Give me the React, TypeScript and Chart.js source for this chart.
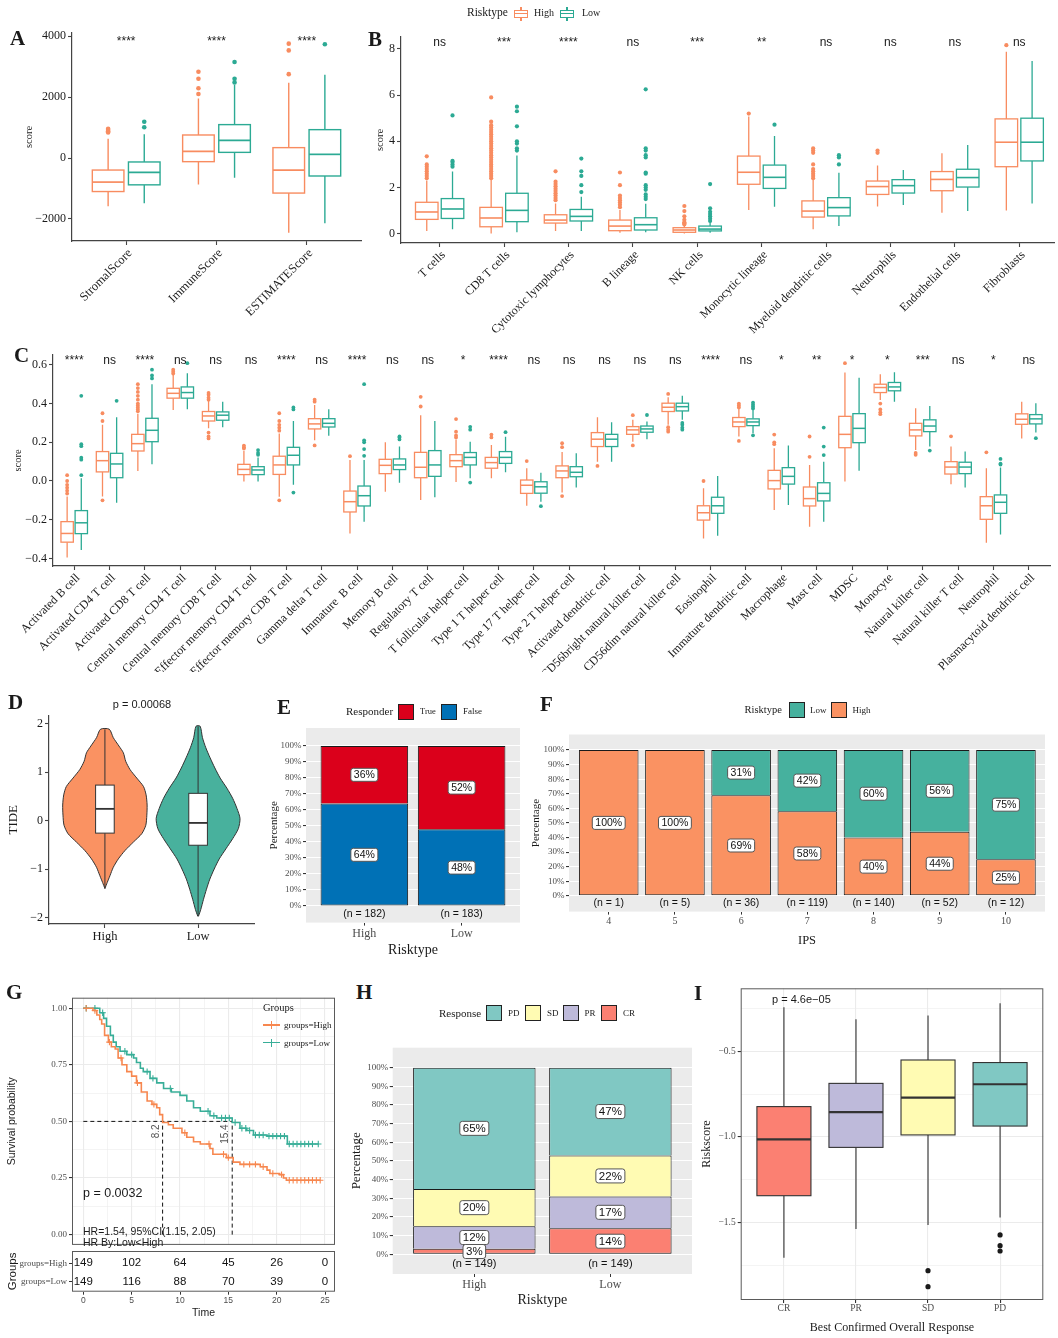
import React, { useEffect, useRef } from 'react';
import { Chart, registerables } from 'chart.js';

Chart.register(...registerables);

const SERIF = '"Liberation Serif", "Times New Roman", serif';
const SANS = '"Liberation Sans", Arial, Helvetica, sans-serif';
Chart.defaults.font.family = SERIF;
Chart.defaults.color = '#1a1a1a';

const HIGH_COL = '#F88C60';
const LOW_COL = '#2CAA94';
const INK = '#1a1a1a';
const AXIS = '#444444';
const GREY_TXT = '#4D4D4D';
const PANEL_BG = '#EBEBEB';
const DODGE = 0.2;
const BOX_W = 0.35;

// ---------- A: ESTIMATE scores ----------
const A_CATS = ['StromalScore', 'ImmuneScore', 'ESTIMATEScore'];
const A_SIG = ['****', '****', '****'];
// each row: [lower whisker, Q1, median, Q3, upper whisker]
const A_HIGH = [
  [-1580, -1100, -790, -395, 630],
  [-870, -120, 220, 755, 1950],
  [-2450, -1150, -395, 340, 2470],
];
const A_LOW = [
  [-1480, -880, -470, -130, 780],
  [-650, 185, 580, 1095, 2400],
  [-2140, -590, 120, 930, 2730],
];
const A_HIGH_OUT = [[840, 880, 920, 960], [2100, 2290, 2600, 2830], [2750, 3530, 3750]];
const A_LOW_OUT = [[1010, 1190], [2480, 2600, 3150], [3730]];

// ---------- B: MCP-counter scores ----------
const B_CATS = ['T cells', 'CD8 T cells', 'Cytotoxic lymphocytes', 'B lineage', 'NK cells', 'Monocytic lineage',
  'Myeloid dendritic cells', 'Neutrophils', 'Endothelial cells', 'Fibroblasts'];
const B_SIG = ['ns', '***', '****', 'ns', '***', '**', 'ns', 'ns', 'ns', 'ns'];
const B_HIGH = [
  [0.12, 0.62, 0.94, 1.36, 2.3],
  [0.01, 0.3, 0.68, 1.14, 2.33],
  [0.12, 0.46, 0.59, 0.82, 1.31],
  [0.04, 0.13, 0.33, 0.59, 1.03],
  [0.01, 0.06, 0.16, 0.26, 0.33],
  [1.03, 2.14, 2.66, 3.36, 5.07],
  [0.19, 0.72, 0.98, 1.42, 2.33],
  [1.18, 1.7, 2.04, 2.28, 2.95],
  [0.91, 1.86, 2.35, 2.69, 3.48],
  [1.0, 2.9, 3.96, 4.97, 7.88],
];
const B_LOW = [
  [0.19, 0.66, 1.07, 1.52, 2.69],
  [0.06, 0.52, 1.01, 1.75, 3.38],
  [0.12, 0.55, 0.75, 1.05, 1.6],
  [0.06, 0.16, 0.39, 0.69, 1.3],
  [0.04, 0.12, 0.2, 0.33, 0.5],
  [1.17, 1.96, 2.44, 2.97, 4.23],
  [0.33, 0.77, 1.13, 1.56, 2.64],
  [1.24, 1.76, 2.08, 2.34, 2.76],
  [0.98, 2.02, 2.43, 2.79, 3.84],
  [1.31, 3.15, 3.96, 5.0, 7.48],
];
const B_HIGH_OUT = [
  [2.4, 2.5, 2.6, 2.7, 2.8, 2.9, 3.0, 3.35],
  [2.4, 2.5, 2.6, 2.7, 2.8, 2.9, 3.0, 3.1, 3.2, 3.3, 3.4, 3.5, 3.6, 3.7, 3.8, 3.9, 4.0, 4.1, 4.2, 4.3, 4.4, 4.5, 4.6, 4.7, 4.85, 5.9],
  [1.45, 1.55, 1.65, 1.75, 1.85, 1.95, 2.05, 2.15, 2.25, 2.7],
  [1.15, 1.25, 1.35, 1.45, 1.55, 1.65, 2.1, 2.65],
  [0.4, 0.45, 0.5, 0.6, 0.75, 0.98, 1.2],
  [5.2],
  [2.4, 2.5, 2.6, 2.7, 2.8, 3.0, 3.5, 3.6, 3.7],
  [3.5, 3.6],
  [],
  [8.16],
];
const B_LOW_OUT = [
  [2.9, 3.0, 3.1, 3.15, 5.12],
  [3.6, 3.7, 3.9, 4.0, 4.65, 5.3, 5.5],
  [1.8, 2.1, 2.5, 2.7, 3.25],
  [1.5, 1.6, 1.7, 1.9, 2.0, 2.1, 2.6, 2.65, 3.3, 3.4, 3.6, 3.7, 6.25],
  [0.55, 0.65, 0.75, 0.85, 0.95, 1.1, 2.15],
  [4.72],
  [3.0, 3.3, 3.4],
  [],
  [],
  [],
];

// ---------- C: ssGSEA immune cell scores ----------
const C_CATS = ['Activated B cell', 'Activated CD4 T cell', 'Activated CD8 T cell', 'Central memory CD4 T cell',
  'Central memory CD8 T cell', 'Effector memory CD4 T cell', 'Effector memory CD8 T cell', 'Gamma delta T cell',
  'Immature  B cell', 'Memory B cell', 'Regulatory T cell', 'T follicular helper cell', 'Type 1 T helper cell',
  'Type 17 T helper cell', 'Type 2 T helper cell', 'Activated dendritic cell', 'CD56bright natural killer cell',
  'CD56dim natural killer cell', 'Eosinophil', 'Immature dendritic cell', 'Macrophage', 'Mast cell', 'MDSC',
  'Monocyte', 'Natural killer cell', 'Natural killer T cell', 'Neutrophil', 'Plasmacytoid dendritic cell'];
const C_SIG = ['****', 'ns', '****', 'ns', 'ns', 'ns', '****', 'ns', '****', 'ns', 'ns', '*', '****', 'ns', 'ns',
  'ns', 'ns', 'ns', '****', 'ns', '*', '**', '*', '*', '***', 'ns', '*', 'ns'];
const C_HIGH = [
  [-0.395, -0.316, -0.271, -0.21, -0.08],
  [-0.08, 0.047, 0.105, 0.152, 0.29],
  [0.052, 0.155, 0.193, 0.241, 0.347],
  [0.367, 0.428, 0.453, 0.479, 0.548],
  [0.272, 0.31, 0.336, 0.359, 0.415],
  [-0.003, 0.033, 0.06, 0.086, 0.155],
  [-0.081, 0.034, 0.083, 0.128, 0.245],
  [0.21, 0.269, 0.295, 0.322, 0.393],
  [-0.271, -0.16, -0.107, -0.052, 0.109],
  [-0.055, 0.038, 0.081, 0.112, 0.2],
  [-0.098, 0.017, 0.071, 0.148, 0.34],
  [-0.005, 0.074, 0.105, 0.136, 0.215],
  [0.014, 0.066, 0.095, 0.122, 0.186],
  [-0.128, -0.064, -0.022, 0.005, 0.066],
  [-0.06, 0.017, 0.052, 0.078, 0.15],
  [0.1, 0.178, 0.216, 0.25, 0.33],
  [0.203, 0.241, 0.264, 0.281, 0.316],
  [0.29, 0.359, 0.381, 0.402, 0.433],
  [-0.297, -0.202, -0.164, -0.128, -0.038],
  [0.23, 0.281, 0.305, 0.328, 0.376],
  [-0.15, -0.041, 0.002, 0.055, 0.169],
  [-0.236, -0.129, -0.091, -0.031, 0.083],
  [-0.003, 0.172, 0.241, 0.334, 0.56],
  [0.419, 0.457, 0.483, 0.5, 0.552],
  [0.16, 0.233, 0.264, 0.298, 0.376],
  [-0.017, 0.036, 0.072, 0.1, 0.178],
  [-0.319, -0.198, -0.128, -0.081, 0.066],
  [0.219, 0.293, 0.319, 0.347, 0.41],
];
const C_LOW = [
  [-0.357, -0.272, -0.216, -0.153, 0.014],
  [-0.112, 0.017, 0.088, 0.143, 0.33],
  [0.086, 0.203, 0.262, 0.324, 0.5],
  [0.371, 0.428, 0.457, 0.486, 0.557],
  [0.278, 0.314, 0.34, 0.357, 0.41],
  [-0.003, 0.033, 0.057, 0.074, 0.122],
  [-0.02, 0.083, 0.133, 0.174, 0.31],
  [0.234, 0.279, 0.298, 0.322, 0.371],
  [-0.21, -0.129, -0.076, -0.026, 0.109],
  [-0.009, 0.059, 0.083, 0.114, 0.178],
  [-0.084, 0.024, 0.083, 0.157, 0.31],
  [0.014, 0.083, 0.122, 0.147, 0.203],
  [0.045, 0.091, 0.122, 0.152, 0.229],
  [-0.107, -0.063, -0.03, -0.004, 0.043],
  [-0.034, 0.022, 0.045, 0.074, 0.143],
  [0.1, 0.178, 0.216, 0.241, 0.303],
  [0.216, 0.252, 0.269, 0.284, 0.307],
  [0.316, 0.362, 0.384, 0.402, 0.44],
  [-0.283, -0.167, -0.128, -0.084, 0.026],
  [0.247, 0.286, 0.305, 0.321, 0.37],
  [-0.124, -0.016, 0.024, 0.069, 0.183],
  [-0.21, -0.103, -0.064, -0.009, 0.1],
  [0.053, 0.198, 0.272, 0.348, 0.534],
  [0.41, 0.466, 0.486, 0.509, 0.562],
  [0.178, 0.255, 0.284, 0.316, 0.388],
  [-0.033, 0.038, 0.072, 0.097, 0.152],
  [-0.276, -0.167, -0.11, -0.072, 0.07],
  [0.25, 0.295, 0.321, 0.343, 0.402],
];
const C_HIGH_OUT = [
  [-0.065, -0.05, -0.035, -0.02, 0.0, 0.03],
  [-0.1, 0.31, 0.35],
  [0.36, 0.37, 0.38, 0.39, 0.4, 0.42, 0.44, 0.46, 0.48, 0.5],
  [0.555, 0.565, 0.575],
  [0.22, 0.23, 0.25, 0.42, 0.43, 0.445, 0.455],
  [0.168, 0.175, 0.183],
  [-0.1, 0.26, 0.275, 0.29, 0.31, 0.35],
  [0.184, 0.41, 0.42],
  [0.128],
  [],
  [0.385, 0.435],
  [0.225, 0.235, 0.255, 0.32],
  [0.225, 0.24],
  [0.103],
  [-0.078, 0.175, 0.195],
  [0.078],
  [0.184, 0.34],
  [0.255, 0.265, 0.278, 0.45],
  [0.0],
  [0.207, 0.38, 0.39, 0.4],
  [0.19, 0.2, 0.24],
  [0.125, 0.23],
  [0.609],
  [0.345, 0.355, 0.37, 0.4],
  [0.135, 0.145],
  [0.231],
  [0.148],
  [],
];
const C_LOW_OUT = [
  [0.03, 0.11, 0.12, 0.18, 0.19, 0.44],
  [0.414],
  [0.53, 0.545, 0.575],
  [0.609],
  [],
  [0.135, 0.145, 0.16],
  [-0.06, 0.37, 0.38],
  [],
  [0.13, 0.165, 0.2, 0.21, 0.5],
  [0.215, 0.225, 0.23],
  [],
  [-0.008, 0.265, 0.28],
  [0.252],
  [-0.13],
  [],
  [],
  [0.341],
  [0.265, 0.275, 0.29, 0.3],
  [],
  [0.236, 0.375, 0.385, 0.395, 0.405],
  [],
  [0.134, 0.178, 0.276],
  [],
  [],
  [0.157],
  [],
  [0.085, 0.09, 0.114],
  [0.221],
];

// ---------- D: TIDE violin ----------
const D_GROUPS = ['High', 'Low'];
const D_HIGH_Y = [-1.403, -1.278, -1.139, -0.965, -0.792, -0.618, -0.444, -0.271, -0.097, 0.111, 0.319, 0.528,
  0.701, 0.875, 1.049, 1.222, 1.396, 1.535, 1.708, 1.882];
const D_HIGH_W = [0.0, 0.025, 0.054, 0.09, 0.144, 0.216, 0.306, 0.396, 0.439, 0.45, 0.453, 0.442,
  0.414, 0.342, 0.27, 0.223, 0.198, 0.151, 0.09, 0.047];
const D_LOW_Y = [-1.972, -1.833, -1.625, -1.417, -1.208, -1.0, -0.792, -0.583, -0.375, -0.167, 0.042, 0.25,
  0.458, 0.667, 0.875, 1.083, 1.292, 1.5, 1.708, 1.944];
const D_LOW_W = [0.004, 0.029, 0.058, 0.09, 0.126, 0.173, 0.227, 0.299, 0.371, 0.432, 0.45, 0.417,
  0.371, 0.309, 0.237, 0.18, 0.129, 0.083, 0.047, 0.022];
const D_BOX = [
  [-1.4, -0.26, 0.24, 0.73, 1.88],
  [-1.97, -0.51, -0.05, 0.56, 1.94],
];

// ---------- E: responder share ----------
const E_GROUPS = ['High', 'Low'];
const E_N = [182, 183];
const E_FALSE = [64, 48];
const E_TRUE = [36, 52];

// ---------- F: IPS ----------
const F_IPS = ['4', '5', '6', '7', '8', '9', '10'];
const F_N = [1, 5, 36, 119, 140, 52, 12];
const F_HIGH = [100, 100, 69, 58, 40, 44, 25];
const F_LOW = [0, 0, 31, 42, 60, 56, 75];

// ---------- G: survival ----------
const G_HIGH_T = [0, 1.0, 1.4, 1.7, 1.9, 2.2, 2.6, 2.9, 3.3, 3.6, 4.0, 4.5, 5.0, 5.5, 6.0, 6.6, 7.1, 7.6, 7.9,
  8.2, 8.8, 9.3, 10.2, 10.7, 11.4, 12.1, 13.1, 13.4, 14.8, 15.5, 16.2, 18.3, 19.0, 19.3, 20.3, 20.7, 21.0, 24.5];
const G_HIGH_S = [1.0, 0.99, 0.97, 0.95, 0.93, 0.88, 0.85, 0.83, 0.82, 0.78, 0.75, 0.72, 0.7, 0.67, 0.63, 0.59,
  0.575, 0.56, 0.53, 0.495, 0.485, 0.47, 0.45, 0.43, 0.41, 0.4, 0.38, 0.355, 0.34, 0.32, 0.31, 0.3, 0.285, 0.27,
  0.265, 0.25, 0.24, 0.24];
const G_LOW_T = [0, 1.7, 2.1, 2.4, 2.8, 3.1, 3.4, 3.8, 4.5, 5.2, 5.5, 5.9, 6.2, 6.9, 7.6, 8.3, 9.1, 10.0, 10.7,
  11.4, 12.1, 13.1, 13.8, 15.4, 16.2, 16.9, 17.6, 19.0, 21.1, 24.3];
const G_LOW_S = [1.0, 0.98, 0.955, 0.92, 0.88, 0.85, 0.83, 0.81, 0.795, 0.78, 0.76, 0.735, 0.72, 0.69, 0.67, 0.645,
  0.63, 0.615, 0.59, 0.56, 0.545, 0.525, 0.515, 0.495, 0.47, 0.46, 0.44, 0.435, 0.4, 0.4];
const G_HIGH_CENSOR = [0.3, 1.2, 2.7, 3.9, 5.6, 7.3, 10.5, 13.0, 14.5, 15.0, 16.6, 17.2, 17.8, 18.6, 19.6, 20.5,
  21.3, 21.7, 22.1, 22.5, 22.9, 23.3, 23.7, 24.1, 24.5];
const G_LOW_CENSOR = [0.3, 1.2, 2.0, 4.3, 5.0, 6.6, 7.2, 9.0, 12.9, 13.5, 14.3, 14.7, 15.1, 15.7, 16.4, 16.8,
  17.2, 17.8, 18.2, 18.6, 19.2, 19.6, 20.0, 20.4, 20.8, 21.3, 21.7, 22.1, 22.5, 22.9, 23.3, 23.7, 24.3];
const G_MEDIANS = [8.2, 15.4];
const G_MEDIAN_SURV = 0.5;
const G_X_GRID = [0, 2.5, 5, 7.5, 10, 12.5, 15, 17.5, 20, 22.5, 25];
const G_Y_GRID = [0, 0.125, 0.25, 0.375, 0.5, 0.625, 0.75, 0.875, 1];
const G_RISK_TIMES = [0, 5, 10, 15, 20, 25];
const G_RISK_ROWS = ['groups=High', 'groups=Low'];
const G_RISK_HIGH = [149, 102, 64, 45, 26, 0];
const G_RISK_LOW = [149, 116, 88, 70, 39, 0];

// ---------- H: response share ----------
const H_GROUPS = ['High', 'Low'];
const H_N = [149, 149];
const H_CR = [3, 14];
const H_PR = [12, 17];
const H_SD = [20, 22];
const H_PD = [65, 47];

// ---------- I: riskscore by response ----------
const I_CATS = ['CR', 'PR', 'SD', 'PD'];
const I_STATS = [
  [-1.707, -1.344, -1.014, -0.822, -0.24],
  [-1.539, -1.061, -0.854, -0.686, -0.31],
  [-1.516, -0.988, -0.77, -0.549, -0.289],
  [-1.471, -0.936, -0.691, -0.564, -0.217],
];
const I_OUT = [[], [], [-1.783, -1.877], [-1.574, -1.637, -1.668]];
const I_Y_GRID = [-1.75, -1.5, -1.25, -1.0, -0.75, -0.5, -0.25];

const PCT_TICKS = [0, 5, 10, 15, 20, 25, 30, 35, 40, 45, 50, 55, 60, 65, 70, 75, 80, 85, 90, 95, 100];

const RESP_COL = { CR: '#FB8072', PR: '#BEBADA', SD: '#FFFBB3', PD: '#80C8C3' };
const E_TRUE_COL = '#DB001B';
const E_FALSE_COL = '#0071B6';
const F_HIGH_COL = '#FA9262';
const F_LOW_COL = '#46B19E';
const G_HIGH_COL = '#F7874F';
const G_LOW_COL = '#38AE98';

// ---------- helpers ----------
const signed = (s: string) => s.replace(/-/g, '\u2212');
const tickValues = (vals: number[]) => (scale: any) => {
  scale.ticks = vals.map((v) => ({ value: v }));
};
const fitAxis = (size: number) => (scale: any) => {
  if (scale.isHorizontal()) scale.height = size;
  else scale.width = size;
  scale.paddingLeft = 0;
  scale.paddingRight = 0;
  scale.paddingTop = 0;
  scale.paddingBottom = 0;
};
const indices = (arr: any[]) => arr.map((_, i) => i);

const baseOptions = (padding: any) => ({
  animation: false,
  responsive: false,
  maintainAspectRatio: false,
  events: [],
  layout: { padding },
  plugins: { legend: { display: false }, tooltip: { enabled: false } },
});

interface BoxGroup {
  stats: number[][];
  offset: number;
  width: number;
  stroke: string;
  fill: string | string[];
  lineWidth: number;
  medianWidth: number;
}

// box, whiskers and median drawn through the chart's own scales
function boxPlugin(groups: BoxGroup[], after = false) {
  const draw = (chart: any) => {
    const { ctx } = chart;
    const x = chart.scales.x;
    const y = chart.scales.y;
    ctx.save();
    groups.forEach((g) => {
      g.stats.forEach((s, i) => {
        const cx = x.getPixelForValue(i + g.offset);
        const x0 = x.getPixelForValue(i + g.offset - g.width / 2);
        const x1 = x.getPixelForValue(i + g.offset + g.width / 2);
        const [lo, q1, med, q3, hi] = s.map((v) => y.getPixelForValue(v));
        ctx.strokeStyle = g.stroke;
        ctx.lineWidth = g.lineWidth;
        ctx.beginPath();
        ctx.moveTo(cx, hi);
        ctx.lineTo(cx, q3);
        ctx.moveTo(cx, q1);
        ctx.lineTo(cx, lo);
        ctx.stroke();
        ctx.fillStyle = Array.isArray(g.fill) ? g.fill[i] : g.fill;
        ctx.fillRect(x0, q3, x1 - x0, q1 - q3);
        ctx.strokeRect(x0, q3, x1 - x0, q1 - q3);
        ctx.lineWidth = g.medianWidth;
        ctx.beginPath();
        ctx.moveTo(x0, med);
        ctx.lineTo(x1, med);
        ctx.stroke();
      });
    });
    ctx.restore();
  };
  return after ? { id: 'boxes', afterDatasetsDraw: draw } : { id: 'boxes', beforeDatasetsDraw: draw };
}

function topLabels(labels: string[], yVal: number) {
  return {
    id: 'sigLabels',
    afterDraw(chart: any) {
      const { ctx } = chart;
      const x = chart.scales.x;
      const y = chart.scales.y;
      ctx.save();
      ctx.font = `12px ${SANS}`;
      ctx.fillStyle = INK;
      ctx.textAlign = 'center';
      ctx.textBaseline = 'alphabetic';
      labels.forEach((l, i) => ctx.fillText(l, x.getPixelForValue(i), y.getPixelForValue(yVal)));
      ctx.restore();
    },
  };
}

const grayPanel = {
  id: 'grayPanel',
  beforeDraw(chart: any) {
    const { ctx, chartArea: a } = chart;
    ctx.save();
    ctx.fillStyle = PANEL_BG;
    ctx.fillRect(a.left, a.top, a.right - a.left, a.bottom - a.top);
    ctx.restore();
  },
};

const framePanel = (color: string) => ({
  id: 'frame',
  afterDraw(chart: any) {
    const { ctx, chartArea: a } = chart;
    ctx.save();
    ctx.strokeStyle = color;
    ctx.lineWidth = 1;
    ctx.strokeRect(a.left + 0.5, a.top + 0.5, a.right - a.left - 1, a.bottom - a.top - 1);
    ctx.restore();
  },
});

function labelBox(ctx: any, text: string, cx: number, cy: number, size: number) {
  ctx.font = `${size}px ${SANS}`;
  const w = ctx.measureText(text).width;
  const padX = 3;
  const h = size + 2.5;
  ctx.beginPath();
  ctx.roundRect(cx - w / 2 - padX, cy - h / 2, w + 2 * padX, h, 2.5);
  ctx.fillStyle = '#ffffff';
  ctx.fill();
  ctx.strokeStyle = '#555555';
  ctx.lineWidth = 1;
  ctx.stroke();
  ctx.fillStyle = '#111111';
  ctx.textAlign = 'center';
  ctx.textBaseline = 'middle';
  ctx.fillText(text, cx, cy + 0.5);
}

const N_LABEL_Y = -5;
function stackLabels(series: number[][], n: number[], size: number, nSize: number) {
  return {
    id: 'stackLabels',
    afterDatasetsDraw(chart: any) {
      const { ctx } = chart;
      const x = chart.scales.x;
      const y = chart.scales.y;
      ctx.save();
      n.forEach((count, i) => {
        const mids: number[][] = [];
        let base = 0;
        series.forEach((vals) => {
          const v = vals[i];
          if (v > 0) mids.push([v, base + v / 2]);
          base += v;
        });
        mids.reverse().forEach(([v, m]) => labelBox(ctx, `${v}%`, x.getPixelForValue(i), y.getPixelForValue(m), size));
        ctx.font = `${nSize}px ${SANS}`;
        ctx.fillStyle = '#111111';
        ctx.textAlign = 'center';
        ctx.textBaseline = 'middle';
        ctx.fillText(`(n = ${count})`, x.getPixelForValue(i), y.getPixelForValue(N_LABEL_Y));
      });
      ctx.restore();
    },
  };
}

// ---------- axis builders ----------
function classicX(max: number, labels: string[], height: number, size: number, rotate: number) {
  return {
    type: 'linear',
    min: -0.6,
    max,
    offset: false,
    afterBuildTicks: tickValues(indices(labels)),
    afterFit: fitAxis(height),
    ticks: {
      autoSkip: false,
      minRotation: rotate,
      maxRotation: rotate,
      labelOffset: rotate ? 4 : 0,
      callback: (v: number) => labels[v] ?? '',
      font: { family: SERIF, size },
      color: INK,
      padding: 1,
    },
    grid: { drawOnChartArea: false, offset: false, tickLength: 4, tickColor: AXIS, tickWidth: 1.1 },
    border: { color: AXIS, width: 1.2 },
  };
}

function classicY(min: number, max: number, ticks: number[], fmt: (v: number) => string, width: number,
  size: number, title: string, titleSize: number) {
  return {
    min,
    max,
    afterBuildTicks: tickValues(ticks),
    afterFit: fitAxis(width),
    ticks: { callback: fmt, font: { family: SERIF, size }, color: INK, padding: 2 },
    grid: { drawOnChartArea: false, tickLength: 4, tickColor: AXIS, tickWidth: 1.1 },
    border: { color: AXIS, width: 1.2 },
    title: { display: true, text: title, font: { family: SERIF, size: titleSize }, color: INK, padding: 0 },
  };
}

function grayX(max: number, labels: string[], height: number, size: number, title: string, titleSize: number,
  titlePad: number) {
  return {
    type: 'linear',
    min: -0.6,
    max,
    stacked: true,
    offset: false,
    afterBuildTicks: tickValues(indices(labels)),
    afterFit: fitAxis(height),
    ticks: {
      autoSkip: false,
      maxRotation: 0,
      callback: (v: number) => labels[v] ?? '',
      font: { family: SERIF, size },
      color: GREY_TXT,
      padding: 1,
    },
    grid: { drawOnChartArea: false, offset: false, tickLength: 3, tickColor: '#333333' },
    border: { display: false },
    title: { display: true, text: title, font: { family: SERIF, size: titleSize }, color: INK, padding: { top: 0, bottom: titlePad } },
  };
}

function grayY(min: number, max: number, width: number, titleSize: number) {
  const major = (c: any) => c.tick && c.tick.value % 10 === 0;
  return {
    min,
    max,
    stacked: true,
    afterBuildTicks: tickValues(PCT_TICKS),
    afterFit: fitAxis(width),
    ticks: {
      callback: (v: number) => (v % 10 === 0 ? `${v}%` : ''),
      font: { family: SERIF, size: 9 },
      color: GREY_TXT,
      padding: 1.5,
    },
    grid: {
      color: '#ffffff',
      lineWidth: (c: any) => (major(c) ? 1.1 : 0.55),
      tickLength: 3,
      tickColor: (c: any) => (major(c) ? '#333333' : 'rgba(0,0,0,0)'),
    },
    border: { display: false },
    title: { display: true, text: 'Percentage', font: { family: SERIF, size: titleSize }, color: INK, padding: 0 },
  };
}

// stacked segment: only the lowest segment keeps its bottom edge so shared edges stay one line thick
const bars = (vals: number[], color: string, lowest: boolean) => ({
  data: vals.map((v, i) => ({ x: i, y: v })),
  backgroundColor: color,
  borderColor: '#1a1a1a',
  borderWidth: { top: 1, left: 1, right: 1, bottom: lowest ? 1 : 0 },
  borderSkipped: false,
  barPercentage: 0.9,
  categoryPercentage: 1,
});

// ---------- box panels A, B, C ----------
function boxPanel(s: any) {
  const pts = (out: number[][], off: number) => out.flatMap((vals, i) => vals.map((v) => ({ x: i + off, y: v })));
  return {
    type: 'scatter',
    data: {
      datasets: [
        { data: pts(s.highOut, -DODGE), backgroundColor: HIGH_COL, borderWidth: 0, pointRadius: s.r },
        { data: pts(s.lowOut, DODGE), backgroundColor: LOW_COL, borderWidth: 0, pointRadius: s.r },
      ],
    },
    options: {
      ...baseOptions(s.pad),
      scales: {
        x: classicX(s.xMax, s.cats, s.xHeight, s.xSize, 45),
        y: classicY(s.yMin, s.yMax, s.yTicks, s.yFmt, s.yWidth, 12, 'score', 10.5),
      },
    },
    plugins: [
      boxPlugin([
        { stats: s.high, offset: -DODGE, width: BOX_W, stroke: HIGH_COL, fill: '#ffffff', lineWidth: s.lw, medianWidth: s.mw },
        { stats: s.low, offset: DODGE, width: BOX_W, stroke: LOW_COL, fill: '#ffffff', lineWidth: s.lw, medianWidth: s.mw },
      ]),
      topLabels(s.sig, s.sigY),
    ],
  };
}

const makeA = () => boxPanel({
  cats: A_CATS, sig: A_SIG, high: A_HIGH, low: A_LOW, highOut: A_HIGH_OUT, lowOut: A_LOW_OUT,
  xMax: 2.6, yMin: -2722, yMax: 4100, yTicks: [-2000, 0, 2000, 4000], yFmt: (v: number) => signed(String(v)),
  sigY: 3706, pad: { left: 23, top: 33, right: 3, bottom: 0 }, yWidth: 49, xHeight: 94, xSize: 12.5,
  r: 2.3, lw: 1.4, mw: 1.7,
});

const makeB = () => boxPanel({
  cats: B_CATS, sig: B_SIG, high: B_HIGH, low: B_LOW, highOut: B_HIGH_OUT, lowOut: B_LOW_OUT,
  xMax: 9.54, yMin: -0.4026, yMax: 8.515, yTicks: [0, 2, 4, 6, 8], yFmt: (v: number) => String(v),
  sigY: 8.138, pad: { left: 12, top: 37, right: 0, bottom: 0 }, yWidth: 27, xHeight: 92, xSize: 12,
  r: 2.1, lw: 1.3, mw: 1.6,
});

const makeC = () => boxPanel({
  cats: C_CATS, sig: C_SIG, high: C_HIGH, low: C_LOW, highOut: C_HIGH_OUT, lowOut: C_LOW_OUT,
  xMax: 27.6, yMin: -0.4392, yMax: 0.651, yTicks: [-0.4, -0.2, 0, 0.2, 0.4, 0.6],
  yFmt: (v: number) => signed(v.toFixed(1)),
  sigY: 0.6045, pad: { left: 12, top: 15, right: 8, bottom: 0 }, yWidth: 41, xHeight: 106, xSize: 12,
  r: 1.9, lw: 1.3, mw: 1.5,
});

// ---------- D ----------
const violinOutline = (center: number, ys: number[], ws: number[]) => {
  const left = ys.map((y, k) => ({ x: center - ws[k], y }));
  const right = ys.map((y, k) => ({ x: center + ws[k], y })).reverse();
  return [...left, ...right, left[0]];
};

const makeD = () => ({
  type: 'scatter',
  data: {
    datasets: [
      { data: violinOutline(0, D_HIGH_Y, D_HIGH_W), showLine: true, fill: 'shape', backgroundColor: '#FA9262',
        borderColor: '#333333', borderWidth: 1, pointRadius: 0, tension: 0.25 },
      { data: violinOutline(1, D_LOW_Y, D_LOW_W), showLine: true, fill: 'shape', backgroundColor: '#48B19D',
        borderColor: '#333333', borderWidth: 1, pointRadius: 0, tension: 0.25 },
    ],
  },
  options: {
    ...baseOptions({ left: 6, top: 20.5, right: 8, bottom: 0 }),
    scales: {
      x: classicX(1.6, D_GROUPS, 26, 12.5, 0),
      y: classicY(-2.134, 2.165, [-2, -1, 0, 1, 2], (v: number) => signed(String(v)), 43, 12, 'TIDE', 13),
    },
  },
  plugins: [
    boxPlugin([{ stats: D_BOX, offset: 0, width: 0.2, stroke: '#333333', fill: '#ffffff', lineWidth: 1, medianWidth: 1.8 }], true),
  ],
});

// ---------- E ----------
const makeE = () => ({
  type: 'bar',
  data: { datasets: [bars(E_FALSE, E_FALSE_COL, true), bars(E_TRUE, E_TRUE_COL, false)] },
  options: {
    ...baseOptions({ left: 6, top: 33, right: 10, bottom: 0 }),
    scales: {
      x: grayX(1.6, E_GROUPS, 37.4, 12, 'Risktype', 14, 1.6),
      y: grayY(-10.375, 111.25, 38, 11),
    },
  },
  plugins: [grayPanel, stackLabels([E_FALSE, E_TRUE], E_N, 10.5, 10.5)],
});

// ---------- F ----------
const makeF = () => ({
  type: 'bar',
  data: { datasets: [bars(F_HIGH, F_HIGH_COL, true), bars(F_LOW, F_LOW_COL, false)] },
  options: {
    ...baseOptions({ left: 0, top: 39.5, right: 13, bottom: 0 }),
    scales: {
      x: grayX(6.59, F_IPS, 45.4, 10, 'IPS', 12.5, 8.6),
      y: grayY(-10.84, 110.63, 39, 11),
    },
  },
  plugins: [grayPanel, stackLabels([F_HIGH, F_LOW], F_N, 10.5, 10.5)],
});

// ---------- G ----------
const stepAt = (ts: number[], ss: number[], t: number) => {
  let s = ss[0];
  ts.forEach((tt, k) => {
    if (tt <= t) s = ss[k];
  });
  return s;
};

const kmLine = (ts: number[], ss: number[], color: string) => ({
  data: ts.map((t, k) => ({ x: t, y: ss[k] })),
  showLine: true,
  stepped: 'before',
  borderColor: color,
  borderWidth: 1.6,
  pointRadius: 0,
  fill: false,
});
const kmCensor = (times: number[], ts: number[], ss: number[], color: string) => ({
  data: times.map((c) => ({ x: c, y: stepAt(ts, ss, c) })),
  showLine: false,
  pointStyle: 'cross',
  pointRadius: 3.2,
  borderColor: color,
  borderWidth: 1.1,
  backgroundColor: color,
});
const dashed = (pts: any[]) => ({
  data: pts,
  showLine: true,
  borderColor: '#111111',
  borderWidth: 1,
  borderDash: [4, 3],
  pointRadius: 0,
  fill: false,
});

const medianLabels = {
  id: 'medianLabels',
  afterDatasetsDraw(chart: any) {
    const { ctx } = chart;
    const x = chart.scales.x;
    const y = chart.scales.y;
    ctx.save();
    ctx.font = `10px ${SANS}`;
    ctx.fillStyle = '#555555';
    ctx.textAlign = 'right';
    ctx.textBaseline = 'bottom';
    G_MEDIANS.forEach((t) => {
      ctx.save();
      ctx.translate(x.getPixelForValue(t) - 1.5, y.getPixelForValue(G_MEDIAN_SURV) + 3);
      ctx.rotate(-Math.PI / 2);
      ctx.fillText(String(t), 0, 0);
      ctx.restore();
    });
    ctx.restore();
  },
};

const makeG = () => {
  const maxMed = Math.max(...G_MEDIANS);
  return {
    type: 'scatter',
    data: {
      datasets: [
        kmLine(G_HIGH_T, G_HIGH_S, G_HIGH_COL),
        kmLine(G_LOW_T, G_LOW_S, G_LOW_COL),
        kmCensor(G_HIGH_CENSOR, G_HIGH_T, G_HIGH_S, G_HIGH_COL),
        kmCensor(G_LOW_CENSOR, G_LOW_T, G_LOW_S, G_LOW_COL),
        dashed([{ x: 0, y: G_MEDIAN_SURV }, { x: maxMed, y: G_MEDIAN_SURV }]),
        ...G_MEDIANS.map((t) => dashed([{ x: t, y: 0 }, { x: t, y: G_MEDIAN_SURV }])),
      ],
    },
    options: {
      ...baseOptions({ left: 6, top: 12.7, right: 10, bottom: 0 }),
      scales: {
        x: {
          type: 'linear', min: -1.17, max: 26.03,
          afterBuildTicks: tickValues(G_X_GRID),
          afterFit: fitAxis(2.3),
          ticks: { display: false },
          grid: { color: PANEL_BG, lineWidth: (c: any) => (c.index % 2 === 0 ? 1.1 : 0.55), drawTicks: false },
          border: { display: false },
        },
        y: {
          min: -0.0454, max: 1.0463,
          afterBuildTicks: tickValues(G_Y_GRID),
          afterFit: fitAxis(66),
          ticks: {
            callback: (v: number, i: number) => (i % 2 === 0 ? v.toFixed(2) : ''),
            font: { family: SERIF, size: 9 }, color: GREY_TXT, padding: 2,
          },
          grid: {
            color: PANEL_BG,
            lineWidth: (c: any) => (c.index % 2 === 0 ? 1.1 : 0.55),
            tickLength: 3,
            tickColor: (c: any) => (c.index % 2 === 0 ? '#333333' : 'rgba(0,0,0,0)'),
          },
          border: { display: false },
          title: { display: true, text: 'Survival probability', font: { family: SANS, size: 10.5 }, color: INK, padding: 0 },
        },
      },
    },
    plugins: [medianLabels, framePanel('#5a5a5a')],
  };
};

const riskNumbers = {
  id: 'riskNumbers',
  afterDraw(chart: any) {
    const { ctx } = chart;
    const x = chart.scales.x;
    const y = chart.scales.y;
    ctx.save();
    ctx.font = `11.5px ${SANS}`;
    ctx.fillStyle = '#111111';
    ctx.textAlign = 'center';
    ctx.textBaseline = 'middle';
    G_RISK_TIMES.forEach((t, k) => {
      ctx.fillText(String(G_RISK_HIGH[k]), x.getPixelForValue(t), y.getPixelForValue(1));
      ctx.fillText(String(G_RISK_LOW[k]), x.getPixelForValue(t), y.getPixelForValue(0));
    });
    ctx.restore();
  },
};

const makeRisk = () => ({
  type: 'scatter',
  data: { datasets: [] },
  options: {
    ...baseOptions({ left: 6, top: 1, right: 10, bottom: 0 }),
    scales: {
      x: {
        type: 'linear', min: -1.17, max: 26.03,
        afterBuildTicks: tickValues(G_RISK_TIMES),
        afterFit: fitAxis(46.3),
        ticks: { callback: (v: number) => String(v), font: { family: SANS, size: 8.5 }, color: GREY_TXT, padding: 1 },
        grid: { drawOnChartArea: false, tickLength: 3, tickColor: '#333333' },
        border: { display: false },
        title: { display: true, text: 'Time', font: { family: SANS, size: 10.5 }, color: INK, padding: { top: 0, bottom: 19 } },
      },
      y: {
        min: -0.543, max: 1.668,
        afterBuildTicks: tickValues([0, 1]),
        afterFit: fitAxis(66),
        ticks: { callback: (v: number) => G_RISK_ROWS[1 - v], font: { family: SERIF, size: 9 }, color: GREY_TXT, padding: 2 },
        grid: { drawOnChartArea: false, tickLength: 3, tickColor: '#333333' },
        border: { display: false },
        title: { display: true, text: 'Groups', font: { family: SANS, size: 11.5 }, color: INK, padding: 0 },
      },
    },
  },
  plugins: [riskNumbers, framePanel('#5a5a5a')],
});

// ---------- H ----------
const makeH = () => ({
  type: 'bar',
  data: {
    datasets: [
      bars(H_CR, RESP_COL.CR, true),
      bars(H_PR, RESP_COL.PR, false),
      bars(H_SD, RESP_COL.SD, false),
      bars(H_PD, RESP_COL.PD, false),
    ],
  },
  options: {
    ...baseOptions({ left: 4, top: 17.7, right: 0, bottom: 0 }),
    scales: {
      x: grayX(1.6, H_GROUPS, 64, 12, 'Risktype', 14, 29),
      y: grayY(-10.56, 110.72, 43.7, 13),
    },
  },
  plugins: [grayPanel, stackLabels([H_CR, H_PR, H_SD, H_PD], H_N, 11.5, 11)],
});

// ---------- I ----------
const makeI = () => ({
  type: 'scatter',
  data: {
    datasets: [
      {
        data: I_OUT.flatMap((vals, i) => vals.map((v) => ({ x: i, y: v }))),
        backgroundColor: '#1a1a1a', borderWidth: 0, pointRadius: 2.6,
      },
    ],
  },
  options: {
    ...baseOptions({ left: 10, top: 8.3, right: 14.7, bottom: 0 }),
    scales: {
      x: {
        type: 'linear', min: -0.6, max: 3.6,
        afterBuildTicks: tickValues(indices(I_CATS)),
        afterFit: fitAxis(38),
        ticks: { callback: (v: number) => I_CATS[v] ?? '', font: { family: SERIF, size: 9.5 }, color: GREY_TXT, padding: 0 },
        grid: { color: PANEL_BG, lineWidth: 1.1, tickLength: 3, tickColor: '#333333' },
        border: { display: false },
        title: { display: true, text: 'Best Confirmed Overall Response', font: { family: SERIF, size: 12 }, color: INK, padding: { top: 0, bottom: 2.8 } },
      },
      y: {
        min: -1.955, max: -0.129,
        afterBuildTicks: tickValues(I_Y_GRID),
        afterFit: fitAxis(40.7),
        ticks: {
          callback: (v: number, i: number) => (i % 2 === 1 ? signed(v.toFixed(1)) : ''),
          font: { family: SERIF, size: 9.5 }, color: GREY_TXT, padding: 2,
        },
        grid: {
          color: PANEL_BG,
          lineWidth: (c: any) => (c.index % 2 === 1 ? 1.1 : 0.55),
          tickLength: 3,
          tickColor: (c: any) => (c.index % 2 === 1 ? '#333333' : 'rgba(0,0,0,0)'),
        },
        border: { display: false },
        title: { display: true, text: 'Riskscore', font: { family: SERIF, size: 12 }, color: INK, padding: 0 },
      },
    },
  },
  plugins: [
    boxPlugin([{
      stats: I_STATS, offset: 0, width: 0.75, stroke: '#333333',
      fill: [RESP_COL.CR, RESP_COL.PR, RESP_COL.SD, RESP_COL.PD], lineWidth: 1.1, medianWidth: 2.2,
    }]),
    framePanel('#5a5a5a'),
  ],
});

// ---------- React ----------
function ChartBox({ left, top, width, height, make }: any) {
  const ref = useRef<HTMLCanvasElement>(null);
  useEffect(() => {
    const chart = new Chart(ref.current as HTMLCanvasElement, make());
    return () => chart.destroy();
  }, [make]);
  return <canvas ref={ref} width={width} height={height} style={{ position: 'absolute', left, top, width, height }} />;
}

function Txt({ x, y, size, font = SERIF, weight = 400, color = INK, align = 'left', children }: any) {
  const tx = align === 'center' ? '-50%' : align === 'right' ? '-100%' : '0';
  return (
    <div style={{
      position: 'absolute', left: x, top: y, transform: `translate(${tx}, -50%)`, fontFamily: font,
      fontSize: size, fontWeight: weight, color, lineHeight: 1, whiteSpace: 'pre',
    }}>{children}</div>
  );
}

function Letter({ x, y, children }: any) {
  return <Txt x={x} y={y} size={21} weight={700}>{children}</Txt>;
}

function Key({ x, y, color }: any) {
  return (
    <div style={{
      position: 'absolute', left: x, top: y - 8, width: 16, height: 16, boxSizing: 'border-box',
      background: color, border: '1px solid #222',
    }} />
  );
}

function BoxKey({ x, y, color }: any) {
  return (
    <div style={{ position: 'absolute', left: x - 7, top: y - 7, width: 14, height: 14 }}>
      <div style={{ position: 'absolute', left: 6.3, top: 0, width: 1.4, height: 14, background: color }} />
      <div style={{
        position: 'absolute', left: 0, top: 3, width: 14, height: 8, boxSizing: 'border-box',
        border: `1.4px solid ${color}`, background: '#fff',
      }} />
      <div style={{ position: 'absolute', left: 0, top: 6.3, width: 14, height: 1.4, background: color }} />
    </div>
  );
}

function LineKey({ x, y, color }: any) {
  return (
    <div style={{ position: 'absolute', left: x, top: y - 4, width: 17, height: 8 }}>
      <div style={{ position: 'absolute', left: 0, top: 3.2, width: 17, height: 1.6, background: color }} />
      <div style={{ position: 'absolute', left: 7.7, top: 0, width: 1.6, height: 8, background: color }} />
    </div>
  );
}

export default function App() {
  return (
    <div style={{ position: 'absolute', left: 0, top: 0, width: 1058, height: 1338, background: '#fff', overflow: 'hidden' }}>
      <ChartBox left={0} top={0} width={365} height={335} make={makeA} />
      <ChartBox left={362} top={0} width={696} height={335} make={makeB} />
      <ChartBox left={0} top={340} width={1058} height={332} make={makeC} />
      <ChartBox left={0} top={695} width={262} height={255} make={makeD} />
      <ChartBox left={262} top={695} width={268} height={265} make={makeE} />
      <ChartBox left={530} top={695} width={528} height={262} make={makeF} />
      <ChartBox left={0} top={985} width={345} height={265} make={makeG} />
      <ChartBox left={0} top={1250} width={345} height={88} make={makeRisk} />
      <ChartBox left={345} top={1030} width={347} height={308} make={makeH} />
      <ChartBox left={690} top={980} width={368} height={358} make={makeI} />

      <Letter x={10} y={38}>A</Letter>
      <Letter x={368} y={39}>B</Letter>
      <Letter x={14} y={355}>C</Letter>
      <Letter x={8} y={701.5}>D</Letter>
      <Letter x={277} y={707}>E</Letter>
      <Letter x={540} y={704}>F</Letter>
      <Letter x={6} y={992}>G</Letter>
      <Letter x={356} y={992}>H</Letter>
      <Letter x={694} y={992.5}>I</Letter>

      <Txt x={467} y={13} size={11.5}>Risktype</Txt>
      <BoxKey x={521} y={13.5} color={HIGH_COL} />
      <Txt x={534} y={13} size={10}>High</Txt>
      <BoxKey x={567} y={13.5} color={LOW_COL} />
      <Txt x={582} y={13} size={10}>Low</Txt>

      <Txt x={142} y={704} size={11} font={SANS} align="center">p = 0.00068</Txt>

      <Txt x={346} y={711} size={11}>Responder</Txt>
      <Key x={398} y={711.5} color={E_TRUE_COL} />
      <Txt x={420} y={711} size={8.5}>True</Txt>
      <Key x={441} y={711.5} color={E_FALSE_COL} />
      <Txt x={463} y={711} size={9}>False</Txt>

      <Txt x={744.5} y={710} size={10.5}>Risktype</Txt>
      <Key x={788.5} y={710} color={F_LOW_COL} />
      <Txt x={810} y={710} size={9}>Low</Txt>
      <Key x={831} y={710} color={F_HIGH_COL} />
      <Txt x={852.5} y={710} size={9}>High</Txt>

      <Txt x={263} y={1008} size={10.5}>Groups</Txt>
      <LineKey x={263} y={1025} color={G_HIGH_COL} />
      <Txt x={284} y={1025} size={9}>groups=High</Txt>
      <LineKey x={263} y={1042.7} color={G_LOW_COL} />
      <Txt x={284} y={1042.7} size={9}>groups=Low</Txt>
      <Txt x={83} y={1193} size={12.5} font={SANS}>p = 0.0032</Txt>
      <Txt x={83} y={1231} size={10.5} font={SANS}>HR=1.54, 95%CI(1.15, 2.05)</Txt>
      <Txt x={83} y={1242} size={10.5} font={SANS}>{'HR By:Low<High'}</Txt>

      <Txt x={439} y={1013} size={11}>Response</Txt>
      <Key x={486} y={1013} color={RESP_COL.PD} />
      <Txt x={508} y={1013} size={9}>PD</Txt>
      <Key x={525} y={1013} color={RESP_COL.SD} />
      <Txt x={547} y={1013} size={9}>SD</Txt>
      <Key x={563} y={1013} color={RESP_COL.PR} />
      <Txt x={584.5} y={1013} size={9}>PR</Txt>
      <Key x={601} y={1013} color={RESP_COL.CR} />
      <Txt x={623} y={1013} size={9}>CR</Txt>

      <Txt x={772} y={999} size={11} font={SANS}>p = 4.6e{'\u2212'}05</Txt>
    </div>
  );
}
